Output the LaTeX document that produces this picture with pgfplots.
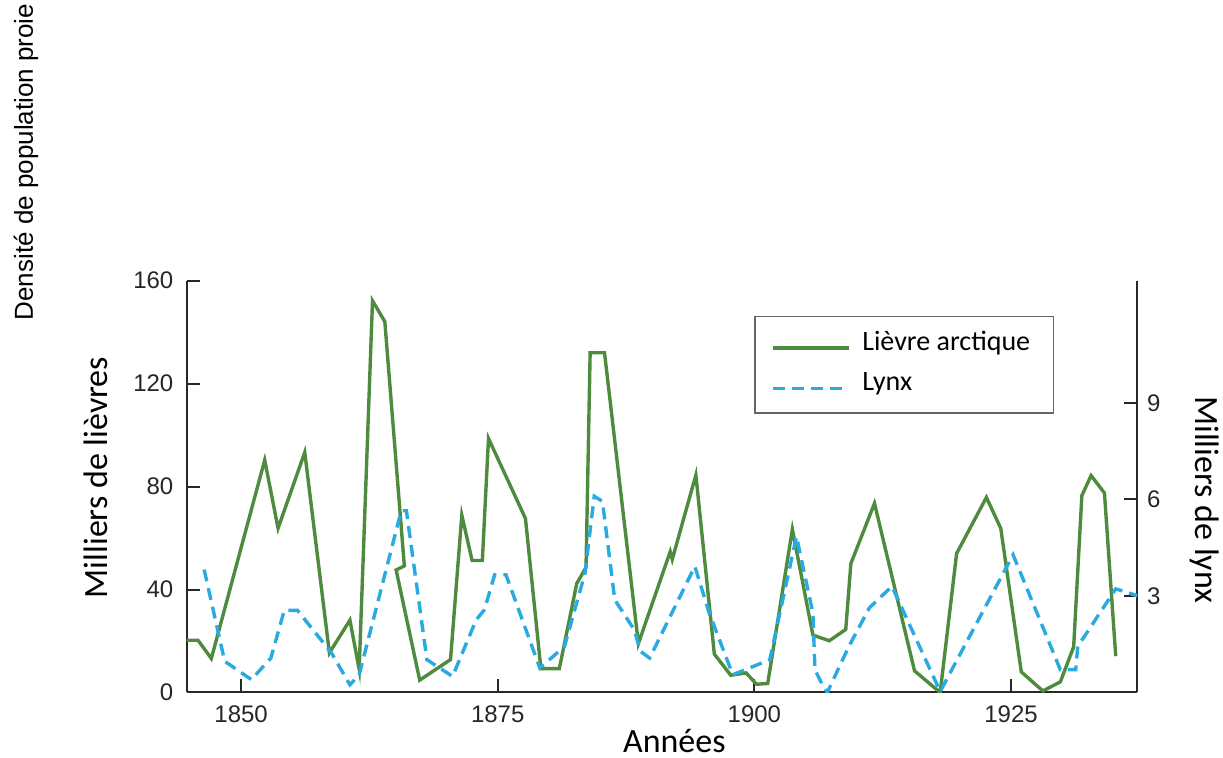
\documentclass[border=0pt]{standalone}
\usepackage{fontspec}
\setmainfont{Carlito}
\newfontfamily\arial{Liberation Sans}
\usepackage{pgfplots}
\pgfplotsset{compat=1.18}
\definecolor{hare}{RGB}{78,139,62}
\definecolor{lynx}{RGB}{41,170,225}
\definecolor{axgray}{RGB}{40,40,40}
\begin{document}
\begin{tikzpicture}
\useasboundingbox (-93.35pt,-32.75pt) rectangle (518.15pt,346.25pt);
\pgfplotsset{
  common/.style={
    at={(0pt,0pt)}, anchor=south west, scale only axis,
    width=475.3pt, height=205.9pt,
    xmin=1844.7, xmax=1937.3,
    clip mode=individual,
    tick align=inside, major tick length=6.7pt,
    tick style={axgray, line width=1pt},
    axis line style={axgray, line width=1pt},
    /pgf/number format/assume math mode=true,
    tick label style={font=\arial\fontsize{12}{13}\selectfont, text=black!85, inner sep=0pt},
  }
}
\begin{axis}[common,
  axis x line*=bottom, axis y line*=left,
  ymin=0, ymax=160,
  ytick={0,40,80,120,160},
  xtick={1850,1875,1900,1925},
  xticklabels={1850,1875,1900,1925},
  yticklabel shift=6.5pt,
  xticklabel shift=6.5pt,
  xlabel={Années},
  xlabel style={at={(axis description cs:0.513,0)}, anchor=base, inner sep=0pt, yshift=-29.9pt, font=\fontsize{17}{20}\selectfont},
  ylabel={Milliers de lièvres},
  ylabel style={at={(axis description cs:-0.0828,0.522)}, anchor=base, inner sep=0pt, font=\fontsize{17}{20}\selectfont},
]
\addplot[hare, line width=1.7pt, line join=miter] coordinates {
(1844.7,20.3) (1845.8,20.3) (1847.1,13.2) (1852.3,90.3) (1853.6,63.8)
(1856.2,93.3) (1858.6,15.4) (1860.6,28.1) (1861.5,9.0) (1862.8,152.2)
(1864.0,144.1) (1865.9,49.2) (1865.1,47.6) (1867.4,4.8) (1870.4,12.8)
(1871.5,68.9) (1872.5,51.3) (1873.5,51.3) (1874.1,98.7) (1877.7,67.6)
(1879.2,9.3) (1881.0,9.3) (1882.7,42.4) (1883.6,48.6) (1884.0,132.0)
(1885.4,132.0) (1888.7,19.0) (1891.8,54.7) (1892.0,51.7) (1894.3,84.5)
(1896.1,14.9) (1897.7,6.7) (1899.2,7.6) (1900.2,3.2) (1901.3,3.5)
(1903.7,63.4) (1905.7,22.3) (1907.3,20.1) (1908.9,24.5) (1909.4,50.1)
(1911.7,73.5) (1915.6,8.4) (1918.1,0.0) (1919.7,54.0) (1922.6,75.8)
(1924.0,63.8) (1926.0,8.0) (1928.1,0.6) (1929.8,4.1) (1931.1,17.7)
(1931.9,76.5) (1932.8,84.3) (1934.1,77.5) (1935.2,14.1)
};
\end{axis}
\begin{axis}[common,
  axis x line=none, axis y line*=right,
  xtick=\empty,
  ymin=0, ymax=12.8,
  ytick={3,6,9},
  yticklabel shift=4.7pt,
  ylabel={Milliers de lynx},
  ylabel style={at={(axis description cs:1.0617,0.4675)}, anchor=base, inner sep=0pt, rotate=180, font=\fontsize{17}{20}\selectfont},
  legend style={at={(axis description cs:0.597,0.915)}, anchor=north west,
    draw=black!60, line width=0.7pt, fill=white,
    inner xsep=8.2pt, inner ysep=8pt, row sep=8.3pt,
    font=\fontsize{14}{16}\selectfont,
    nodes={inner sep=0pt, text height=9pt, text depth=3pt}},
  legend cell align=left,
  legend image code/.code={\draw[#1] (0pt,-1.8pt) -- (38pt,-1.8pt); \path (43.8pt,-1.8pt);},
]
\addlegendimage{hare, line width=1.7pt}
\addlegendentry{Lièvre arctique\kern3.5pt}
\addplot[lynx, line width=1.7pt, dash pattern=on 6pt off 3.5pt] coordinates {
(1846.4,3.82) (1848.4,0.97) (1851.0,0.40) (1852.9,1.07) (1854.2,2.55)
(1855.5,2.55) (1858.8,1.23) (1860.6,0.24) (1861.5,0.55) (1865.6,5.65)
(1866.1,5.65) (1868.1,1.02) (1870.6,0.50) (1872.9,2.26) (1873.7,2.57)
(1874.7,3.66) (1875.8,3.66) (1879.1,0.76) (1881.5,1.43) (1883.5,3.71)
(1884.4,6.10) (1885.2,5.94) (1886.4,2.88) (1888.3,1.95) (1888.9,1.28)
(1889.8,1.07) (1894.2,3.92) (1895.6,2.47) (1897.9,0.55) (1901.5,1.02)
(1904.1,4.85) (1905.7,2.47) (1905.9,0.71) (1906.6,0.25) (1907.1,0.0)
(1909.2,1.43) (1911.2,2.63) (1913.4,3.30) (1918.1,0.03) (1925.2,4.28)
(1929.8,0.71) (1931.3,0.71) (1931.5,1.43) (1935.2,3.22) (1937.3,3.01)
};
\addlegendentry{Lynx}
\end{axis}
\node[rotate=90, anchor=base, font=\arial\fontsize{13}{15}\selectfont] at (-76.85pt,265.25pt) {Densité de population proie};
\end{tikzpicture}
\end{document}
